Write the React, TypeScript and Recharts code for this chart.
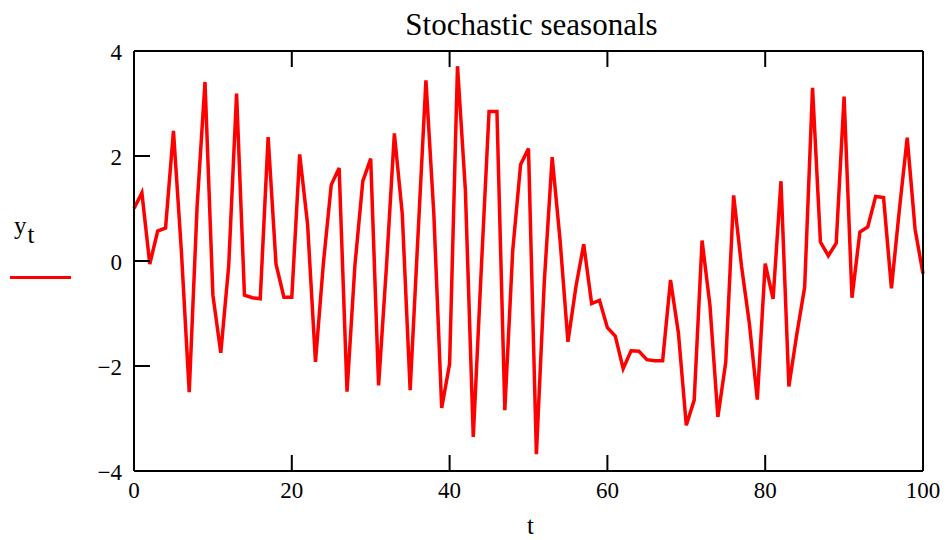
import { LineChart, Line, XAxis, YAxis } from "recharts";

// y_t values at t = 0..100
const yValues = [
  1.0, 1.3, -0.06, 0.57, 0.63, 2.48, 0.2, -2.5, 1.05, 3.41,
  -0.65, -1.75, -0.1, 3.19, -0.65, -0.7, -0.72, 2.36, -0.06, -0.69,
  -0.69, 2.03, 0.7, -1.92, -0.05, 1.45, 1.77, -2.49, -0.08, 1.52,
  1.95, -2.37, -0.1, 2.43, 0.9, -2.46, 0.5, 3.44, 0.9, -2.8,
  -1.96, 3.71, 1.35, -3.35, -0.2, 2.85, 2.85, -2.84, 0.2, 1.84,
  2.14, -3.68, -0.4, 1.98, 0.4, -1.54, -0.5, 0.32, -0.81, -0.75,
  -1.27, -1.43, -2.05, -1.71, -1.72, -1.88, -1.9, -1.9, -0.36, -1.37,
  -3.13, -2.65, 0.39, -0.85, -2.97, -1.93, 1.25, -0.1, -1.2, -2.64,
  -0.05, -0.72, 1.52, -2.39, -1.4, -0.5, 3.3, 0.36, 0.1, 0.34,
  3.13, -0.7, 0.55, 0.65, 1.23, 1.21, -0.52, 0.97, 2.35, 0.6,
  -0.24,
];

const xTicks = [0, 20, 40, 60, 80, 100];
const yTicks = [-4, -2, 0, 2, 4];

const data = yValues.map((y, t) => ({ t, y }));

const FONT = "'Liberation Serif', 'Times New Roman', serif";
const TICK_LEN = 16;
const axisStroke = { stroke: "#000", strokeWidth: 2 };
const minus = (v: number) => String(v).replace("-", "\u2212");

// ticks point inward, labels sit outside
const BottomTick = (p: any) => (
  <g>
    <line x1={p.x} x2={p.x} y1={p.y} y2={p.y - TICK_LEN} stroke="#000" strokeWidth={2} />
    <text x={p.x} y={p.y + 27} textAnchor="middle" fontSize={23} fontFamily={FONT} fill="#000">
      {p.payload.value}
    </text>
  </g>
);
const TopTick = (p: any) => (
  <line x1={p.x} x2={p.x} y1={p.y} y2={p.y + TICK_LEN} stroke="#000" strokeWidth={2} />
);
const LeftTick = (p: any) => (
  <g>
    <line x1={p.x} x2={p.x + TICK_LEN} y1={p.y} y2={p.y} stroke="#000" strokeWidth={2} />
    <text x={p.x - 12} y={p.y + 9} textAnchor="end" fontSize={23} fontFamily={FONT} fill="#000">
      {minus(p.payload.value)}
    </text>
  </g>
);
const RightTick = (p: any) => (
  <line x1={p.x} x2={p.x - TICK_LEN} y1={p.y} y2={p.y} stroke="#000" strokeWidth={2} />
);

export default function App() {
  return (
    <div
      style={{
        position: "absolute",
        left: 0,
        top: 0,
        width: 947,
        height: 540,
        background: "#fff",
        fontFamily: FONT,
      }}
    >
      <div
        style={{
          position: "absolute",
          left: 0,
          width: 1063,
          top: 7,
          textAlign: "center",
          fontSize: 31,
          color: "#000",
        }}
      >
        Stochastic seasonals
      </div>

      <LineChart
        width={947}
        height={540}
        data={data}
        margin={{ top: 50, right: 23, left: 74, bottom: 39 }}
      >
        <XAxis
          dataKey="t"
          type="number"
          domain={[0, 100]}
          ticks={xTicks}
          interval={0}
          height={30}
          tickSize={0}
          tickMargin={0}
          axisLine={axisStroke}
          tickLine={false}
          tick={BottomTick}
        />
        <XAxis
          xAxisId="top"
          dataKey="t"
          orientation="top"
          type="number"
          domain={[0, 100]}
          ticks={xTicks}
          interval={0}
          height={1}
          tickSize={0}
          tickMargin={0}
          axisLine={axisStroke}
          tickLine={false}
          tick={TopTick}
        />
        <YAxis
          type="number"
          domain={[-4, 4]}
          ticks={yTicks}
          interval={0}
          width={60}
          tickSize={0}
          tickMargin={0}
          axisLine={axisStroke}
          tickLine={false}
          tick={LeftTick}
        />
        <YAxis
          yAxisId="right"
          orientation="right"
          type="number"
          domain={[-4, 4]}
          ticks={yTicks}
          interval={0}
          width={1}
          tickSize={0}
          tickMargin={0}
          axisLine={axisStroke}
          tickLine={false}
          tick={RightTick}
        />
        <Line
          type="linear"
          dataKey="y"
          stroke="#ff0000"
          strokeWidth={3.5}
          dot={false}
          isAnimationActive={false}
        />
      </LineChart>

      <div
        style={{
          position: "absolute",
          left: 527,
          top: 512,
          fontSize: 25,
          color: "#000",
        }}
      >
        t
      </div>

      <div
        style={{
          position: "absolute",
          left: 14,
          top: 212,
          fontSize: 25,
          color: "#000",
        }}
      >
        y
        <span style={{ position: "relative", top: 9, left: 1 }}>t</span>
      </div>
      <div
        style={{
          position: "absolute",
          left: 10,
          top: 276,
          width: 61,
          height: 3,
          background: "#ff0000",
        }}
      />
    </div>
  );
}
